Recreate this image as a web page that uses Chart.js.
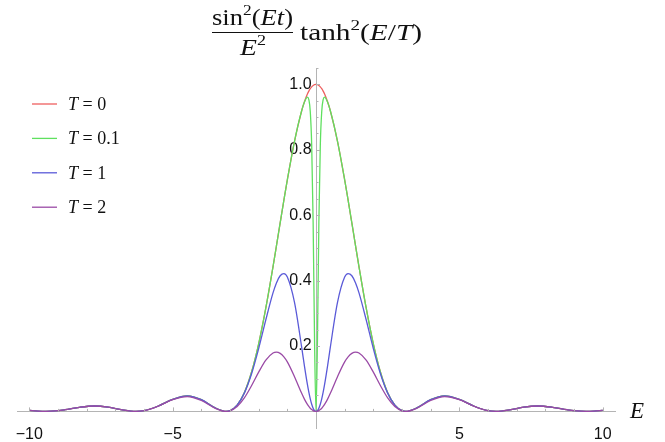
<!DOCTYPE html>
<html>
<head>
<meta charset="utf-8">
<script src="https://cdn.jsdelivr.net/npm/chart.js@4.4.1/dist/chart.umd.min.js"></script>
<style>
  html, body { margin: 0; padding: 0; background: #fff; }
</style>
</head>
<body>
<canvas id="plot" width="665" height="442"></canvas>
<script>
// Sample energies E (denser near 0, where the T = 0.1 curve is steep)
const eValues = [
  -10, -9.7, -9.42, -9, -8.75, -8.25, -7.73, -7.25, -6.75, -6.28,
  -6, -5.5, -5, -4.49, -4, -3.5, -3.14, -3, -2.75, -2.5,
  -2.25, -2, -1.75, -1.5, -1.38, -1.25, -1.12, -1, -0.75, -0.5,
  -0.4, -0.3, -0.25, -0.2, -0.15, -0.1, -0.05,
  0,
  0.05, 0.1, 0.15, 0.2, 0.25, 0.3, 0.4, 0.5, 0.75, 1,
  1.12, 1.25, 1.38, 1.5, 1.75, 2, 2.25, 2.5, 2.75, 3,
  3.14, 3.5, 4, 4.49, 5, 5.5, 6, 6.28, 6.75, 7.25,
  7.73, 8.25, 8.75, 9, 9.42, 9.7, 10
];

// T = 0
const valuesT0 = [
  0.0030, 0.0008, 0, 0.0021, 0.0051, 0.0125, 0.0165, 0.0129, 0.0044, 0,
  0.0022, 0.0165, 0.0368, 0.0472, 0.0358, 0.0100, 0, 0.0022, 0.0193, 0.0573,
  0.1196, 0.2067, 0.3162, 0.4422, 0.5062, 0.5764, 0.6459, 0.7081, 0.8260, 0.9194,
  0.9478, 0.9704, 0.9793, 0.9867, 0.9925, 0.9967, 0.9992,
  1,
  0.9992, 0.9967, 0.9925, 0.9867, 0.9793, 0.9704, 0.9478, 0.9194, 0.8260, 0.7081,
  0.6459, 0.5764, 0.5062, 0.4422, 0.3162, 0.2067, 0.1196, 0.0573, 0.0193, 0.0022,
  0, 0.0100, 0.0358, 0.0472, 0.0368, 0.0165, 0.0022, 0, 0.0044, 0.0129,
  0.0165, 0.0125, 0.0051, 0.0021, 0, 0.0008, 0.0030
];

// T = 0.1
const valuesT01 = [
  0.0030, 0.0008, 0, 0.0021, 0.0051, 0.0125, 0.0165, 0.0129, 0.0044, 0,
  0.0022, 0.0165, 0.0368, 0.0472, 0.0358, 0.0100, 0, 0.0022, 0.0193, 0.0573,
  0.1196, 0.2067, 0.3162, 0.4422, 0.5062, 0.5764, 0.6459, 0.7081, 0.8260, 0.9192,
  0.9465, 0.9608, 0.9533, 0.9170, 0.8132, 0.5781, 0.2134,
  0,
  0.2134, 0.5781, 0.8132, 0.9170, 0.9533, 0.9608, 0.9465, 0.9192, 0.8260, 0.7081,
  0.6459, 0.5764, 0.5062, 0.4422, 0.3162, 0.2067, 0.1196, 0.0573, 0.0193, 0.0022,
  0, 0.0100, 0.0358, 0.0472, 0.0368, 0.0165, 0.0022, 0, 0.0044, 0.0129,
  0.0165, 0.0125, 0.0051, 0.0021, 0, 0.0008, 0.0030
];

// T = 1
const valuesT1 = [
  0.0030, 0.0008, 0, 0.0021, 0.0051, 0.0125, 0.0165, 0.0129, 0.0044, 0,
  0.0022, 0.0165, 0.0368, 0.0472, 0.0357, 0.0100, 0, 0.0022, 0.0189, 0.0558,
  0.1144, 0.1921, 0.2802, 0.3623, 0.3929, 0.4147, 0.4212, 0.4107, 0.3332, 0.1963,
  0.1368, 0.0823, 0.0587, 0.0384, 0.0220, 0.0099, 0.0025,
  0,
  0.0025, 0.0099, 0.0220, 0.0384, 0.0587, 0.0823, 0.1368, 0.1963, 0.3332, 0.4107,
  0.4212, 0.4147, 0.3929, 0.3623, 0.2802, 0.1921, 0.1144, 0.0558, 0.0189, 0.0022,
  0, 0.0100, 0.0357, 0.0472, 0.0368, 0.0165, 0.0022, 0, 0.0044, 0.0129,
  0.0165, 0.0125, 0.0051, 0.0021, 0, 0.0008, 0.0030
];

// T = 2
const valuesT2 = [
  0.0030, 0.0008, 0, 0.0021, 0.0051, 0.0125, 0.0165, 0.0129, 0.0044, 0,
  0.0021, 0.0162, 0.0358, 0.0451, 0.0333, 0.0089, 0, 0.0018, 0.0149, 0.0412,
  0.0783, 0.1199, 0.1567, 0.1784, 0.1810, 0.1773, 0.1667, 0.1512, 0.1061, 0.0552,
  0.0369, 0.0215, 0.0151, 0.0098, 0.0056, 0.0025, 0.0006,
  0,
  0.0006, 0.0025, 0.0056, 0.0098, 0.0151, 0.0215, 0.0369, 0.0552, 0.1061, 0.1512,
  0.1667, 0.1773, 0.1810, 0.1784, 0.1567, 0.1199, 0.0783, 0.0412, 0.0149, 0.0018,
  0, 0.0089, 0.0333, 0.0451, 0.0358, 0.0162, 0.0021, 0, 0.0044, 0.0129,
  0.0165, 0.0125, 0.0051, 0.0021, 0, 0.0008, 0.0030
];

const seriesLabels = ['0', '0.1', '1', '2'];
const xTickLabels = [-10, -5, 5, 10];
const yTickLabels = [0.2, 0.4, 0.6, 0.8, 1.0];

const seriesColors = ['#ee5f5f', '#5fe05f', '#5a5ad8', '#9a4aa6'];
const axisColor = '#b4b4b4';
const serif = '"Liberation Serif", "Times New Roman", serif';

function toPoints(ys) {
  return eValues.map((e, i) => ({ x: e, y: ys[i] }));
}

const allSeries = [valuesT0, valuesT01, valuesT1, valuesT2];

const chartData = {
  datasets: allSeries.map((ys, i) => ({
    label: seriesLabels[i],
    data: toPoints(ys),
    borderColor: seriesColors[i],
    borderWidth: 1.3,
    pointRadius: 0,
    fill: false,
    cubicInterpolationMode: 'monotone',
    order: allSeries.length - i, // later series drawn on top
  })),
};

// draw a row of text pieces with mixed fonts, stretched to a given width
function drawRuns(ctx, runs, x, y, targetWidth) {
  let natural = 0;
  runs.forEach(r => { ctx.font = r[1]; natural += ctx.measureText(r[0]).width; });
  const k = targetWidth ? targetWidth / natural : 1;
  ctx.save();
  ctx.translate(x, y);
  ctx.scale(k, 1);
  let cx = 0;
  runs.forEach(r => {
    ctx.font = r[1];
    ctx.fillText(r[0], cx, r[2] || 0);
    cx += ctx.measureText(r[0]).width;
  });
  ctx.restore();
}

const R = s => s + 'px ' + serif;
const I = s => 'italic ' + s + 'px ' + serif;

const decorations = {
  id: 'decorations',
  afterDraw(chart) {
    const ctx = chart.ctx;
    const xs = chart.scales.x, ys = chart.scales.y;
    const x0 = xs.getPixelForValue(0), y0 = ys.getPixelForValue(0);
    ctx.save();

    // inward tick marks
    ctx.strokeStyle = axisColor;
    ctx.lineWidth = 1;
    ctx.beginPath();
    for (let v = -10; v <= 10; v++) {
      if (v === 0) continue;
      const px = Math.round(xs.getPixelForValue(v)) + 0.5;
      const len = v % 5 === 0 ? 4 : 2.5;
      ctx.moveTo(px, y0);
      ctx.lineTo(px, y0 - len);
    }
    for (let k = 1; k <= 21; k++) {
      const py = Math.round(ys.getPixelForValue(k * 0.05)) + 0.5;
      const len = k % 4 === 0 ? 4 : 2.5;
      ctx.moveTo(x0, py);
      ctx.lineTo(x0 + len, py);
    }
    ctx.stroke();

    // axis label
    ctx.fillStyle = '#111';
    ctx.textBaseline = 'alphabetic';
    ctx.font = I(23);
    ctx.fillText('E', xs.right + 15, y0 + 7);

    // title: sin^2(Et)/E^2 tanh^2(E/T)
    drawRuns(ctx, [['sin', R(23)], ['2', R(15), -10], ['(', R(23)], ['E', I(23)], ['t', I(23)], [')', R(23)]], 212, 25, 81);
    ctx.fillRect(212, 32, 81, 1);
    drawRuns(ctx, [['E', I(23)], ['2', R(15), -10]], 240, 55, 26);
    drawRuns(ctx, [['tanh', R(23)], ['2', R(15), -10], ['(', R(23)], ['E', I(23)], ['/', R(23)], ['T', I(23)], [')', R(23)]], 300, 40, 122);

    // legend
    chart.data.datasets.forEach((ds, i) => {
      const ly = 104 + i * 34.4;
      ctx.strokeStyle = ds.borderColor;
      ctx.lineWidth = 1.3;
      ctx.beginPath();
      ctx.moveTo(32, ly);
      ctx.lineTo(57, ly);
      ctx.stroke();
      ctx.fillStyle = '#111';
      drawRuns(ctx, [['T', I(18)], [' = ' + ds.label, R(18)]], 68, ly + 6);
    });
    ctx.restore();
  }
};

const chartOptions = {
  responsive: false,
  animation: false,
  layout: { padding: { left: 17, right: 50, top: 68, bottom: 9 } },
  scales: {
    x: {
      type: 'linear',
      min: -10.43,
      max: 10.43,
      position: { y: 0 },
      grid: { display: false },
      border: { display: true, color: axisColor, width: 1 },
      afterBuildTicks: s => { s.ticks = xTickLabels.map(v => ({ value: v })); },
      ticks: {
        color: '#111',
        font: { family: '"Liberation Sans", Arial, sans-serif', size: 16 },
        padding: 6,
        maxRotation: 0,
        callback: v => (v < 0 ? '\u2212' + Math.abs(v) : String(v)),
      },
    },
    y: {
      type: 'linear',
      min: -0.052,
      max: 1.05,
      position: { x: 0 },
      grid: { display: false },
      border: { display: true, color: axisColor, width: 1 },
      afterBuildTicks: s => { s.ticks = yTickLabels.map(v => ({ value: v })); },
      ticks: {
        color: '#111',
        font: { family: '"Liberation Sans", Arial, sans-serif', size: 16 },
        padding: 4,
        callback: v => v.toFixed(1) + ' ',
      },
    },
  },
  plugins: {
    legend: { display: false },
    tooltip: { enabled: false },
  },
};

const ctx = document.getElementById('plot').getContext('2d');
const plotChart = new Chart(ctx, {
  type: 'line',
  data: chartData,
  options: chartOptions,
  plugins: [decorations],
});
</script>
</body>
</html>
